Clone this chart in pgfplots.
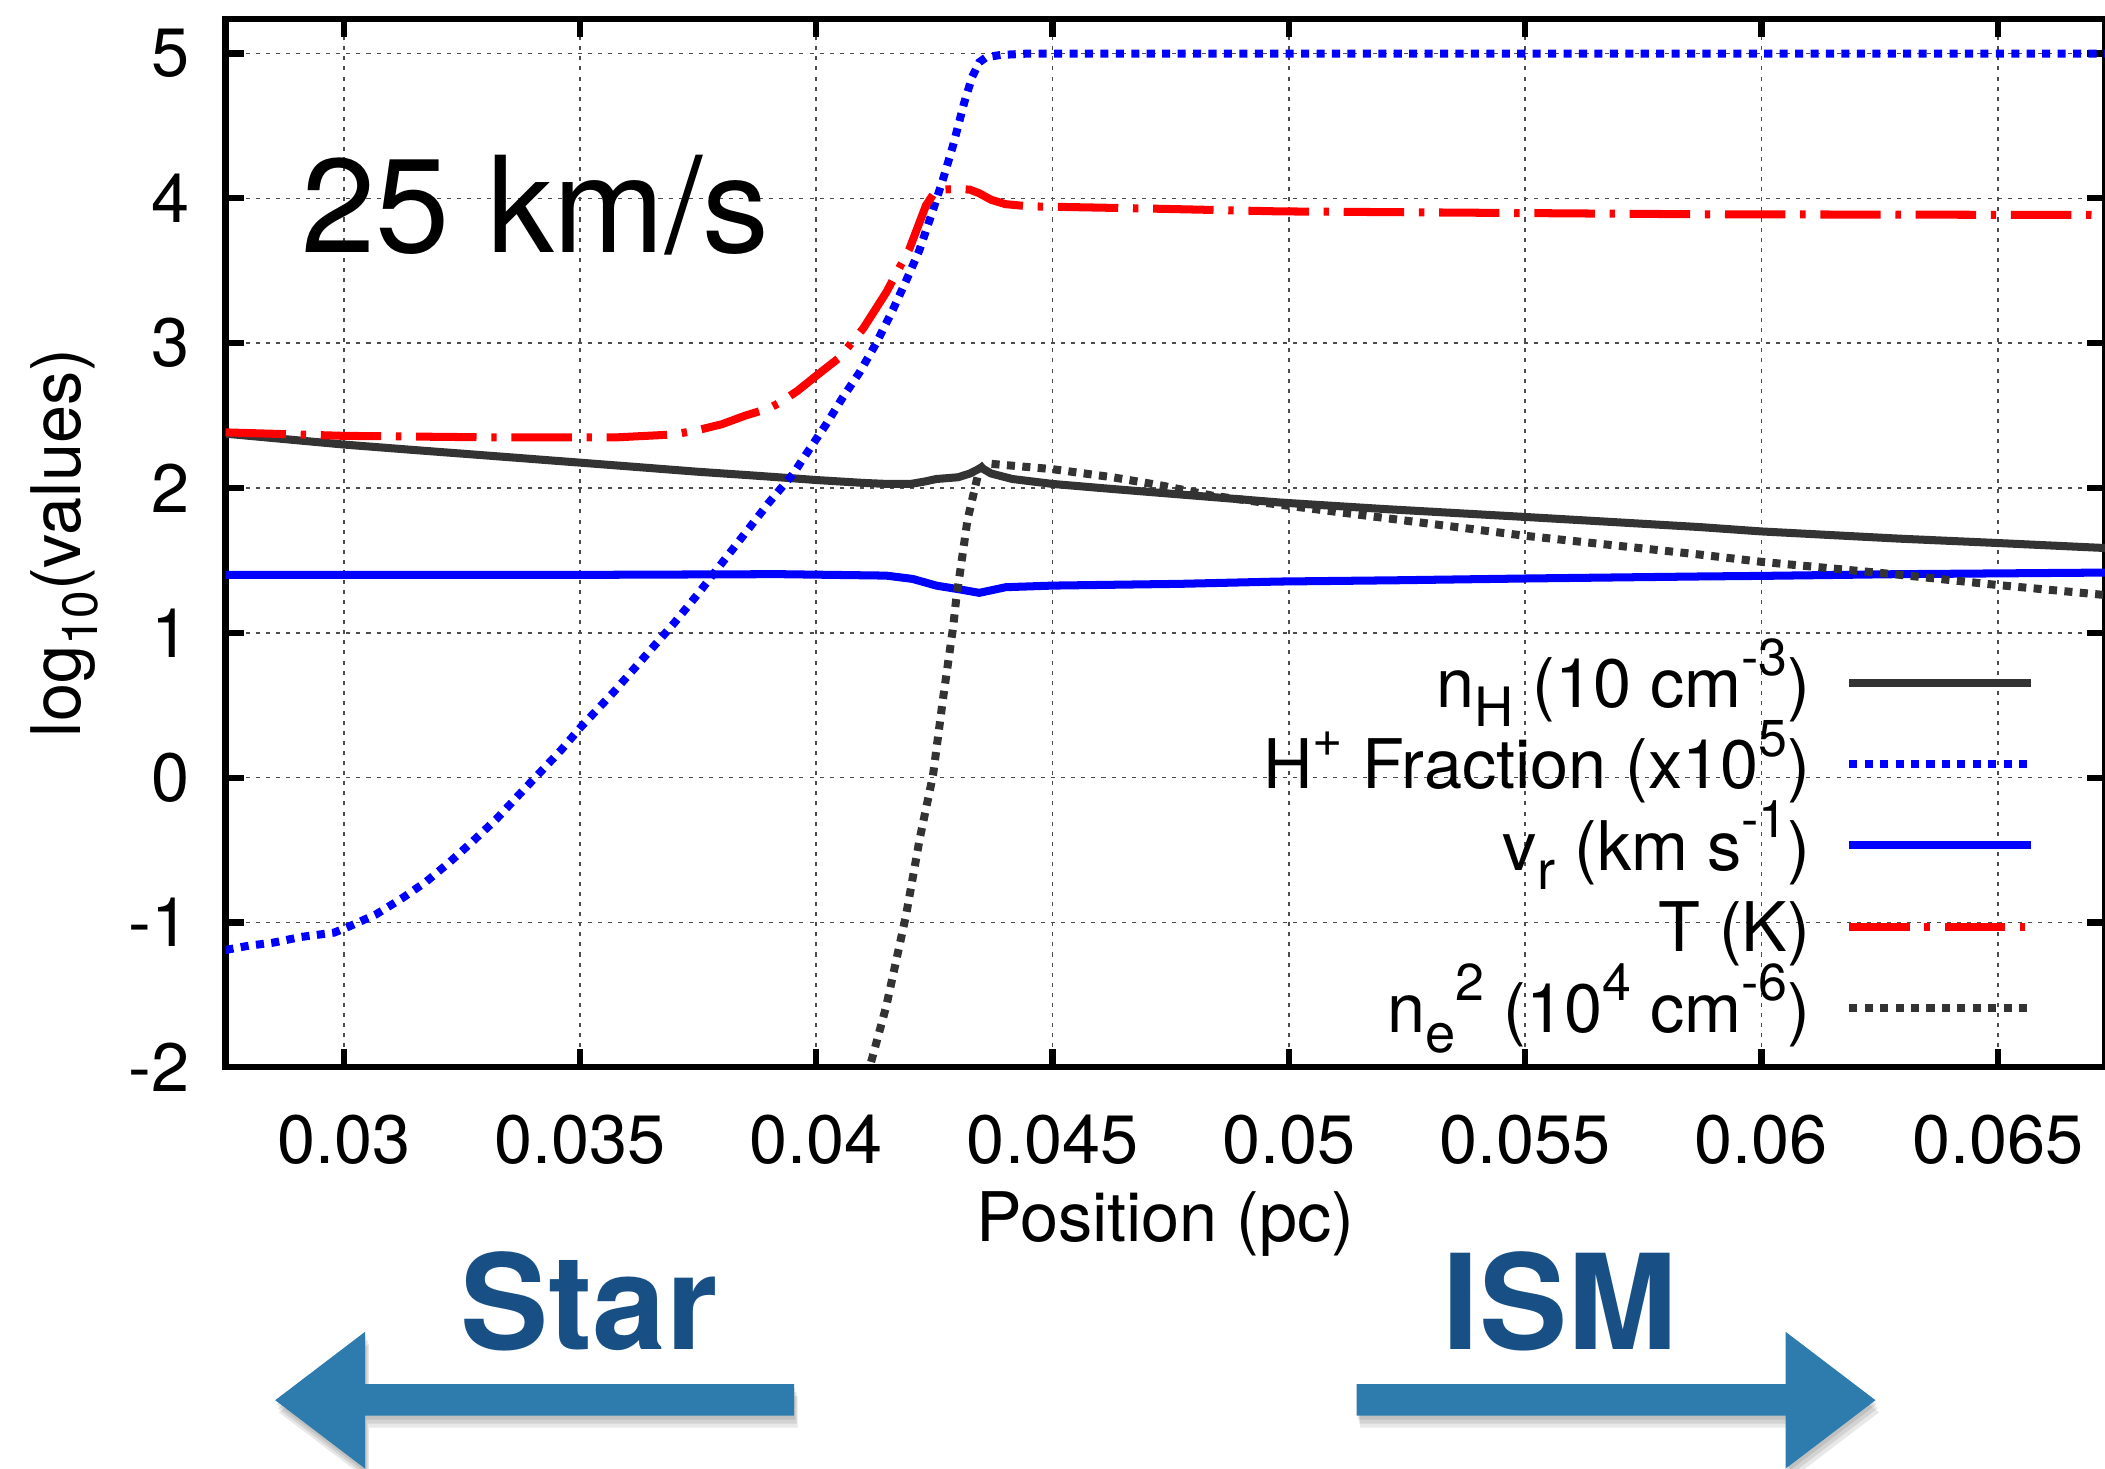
\documentclass[border=0pt]{standalone}
\usepackage{fontspec}
\setmainfont{TeX Gyre Heros}
\usepackage{pgfplots}
\pgfplotsset{compat=1.18}
\usepackage{pgfplotstable}

\definecolor{nhgray}{RGB}{51,51,51}
\definecolor{starblue}{RGB}{24,80,134}
\definecolor{arrowblue}{RGB}{46,124,174}

% raised / lowered indices in the text font
\newcommand\Sup[1]{\raisebox{2.4mm}{\fontsize{11}{12}\selectfont #1}}
\newcommand\Sub[1]{\raisebox{-1.45mm}{\fontsize{11.5}{12}\selectfont #1}}

% hydrogen density, log10(n_H / 10 cm^-3)
\pgfplotstableread{
x y
0.0275 2.375
0.0285 2.345
0.0300 2.300
0.0315 2.262
0.0330 2.225
0.0350 2.175
0.0360 2.150
0.0375 2.112
0.0385 2.090
0.0392 2.074
0.0400 2.055
0.0410 2.035
0.0415 2.028
0.0420 2.028
0.0423 2.045
0.04254 2.062
0.0430 2.074
0.04325 2.100
0.04349 2.140
0.0437 2.100
0.04415 2.062
0.0450 2.028
0.04627 1.993
0.0498 1.900
0.0520 1.855
0.0550 1.800
0.0587 1.730
0.0600 1.700
0.06293 1.650
0.0650 1.620
0.0673 1.585
}\nHtab

% ionised fraction, log10(x_H+ * 1e5)
\pgfplotstableread{
x y
0.0275 -1.19
0.0280 -1.16
0.0285 -1.14
0.0291 -1.10
0.0298 -1.07
0.0301 -1.03
0.03068 -0.945
0.03125 -0.83
0.03174 -0.72
0.03224 -0.584
0.03273 -0.44
0.03322 -0.29
0.03372 -0.115
0.03415 0.034
0.0346 0.19
0.03502 0.35
0.03548 0.51
0.03571 0.59
0.0370 1.07
0.0375 1.27
0.0380 1.48
0.0385 1.69
0.0390 1.90
0.0393 2.016
0.03951 2.097
0.03986 2.27
0.04021 2.44
0.04056 2.625
0.04092 2.80
0.04127 3.00
0.04162 3.23
0.0419 3.43
0.04218 3.64
0.04246 3.91
0.04268 4.13
0.04289 4.36
0.04313 4.66
0.0433 4.84
0.04345 4.94
0.0436 4.975
0.0439 4.99
0.0445 5.00
0.0550 5.00
0.0673 5.00
}\Hptab

% radial velocity, log10(v_r / km s^-1)
\pgfplotstableread{
x y
0.0275 1.400
0.0350 1.400
0.0392 1.405
0.04148 1.395
0.04204 1.372
0.04254 1.326
0.04303 1.300
0.04345 1.276
0.04401 1.315
0.0450 1.326
0.04768 1.338
0.04979 1.354
0.05234 1.363
0.0550 1.375
0.0587 1.389
0.0600 1.393
0.0629 1.405
0.0673 1.416
}\vrtab

% temperature, log10(T / K)
\pgfplotstableread{
x y
0.0275 2.384
0.0300 2.360
0.0330 2.350
0.0358 2.350
0.0370 2.370
0.0375 2.400
0.0380 2.440
0.0385 2.500
0.0390 2.550
0.03923 2.590
0.0396 2.670
0.0400 2.775
0.04049 2.900
0.04099 3.100
0.04148 3.350
0.04197 3.650
0.04232 3.950
0.04248 4.030
0.0426 4.060
0.0430 4.065
0.04325 4.060
0.04345 4.035
0.0437 3.990
0.0440 3.960
0.0445 3.945
0.04697 3.930
0.04979 3.910
0.0587 3.890
0.0673 3.885
}\Ttab

% emission measure proxy, log10(n_e^2 / 1e4 cm^-6)
\pgfplotstableread{
x y
0.0404 -3.00
0.04113 -2.00
0.04148 -1.58
0.0419 -0.95
0.04219 -0.42
0.04247 0.016
0.04268 0.54
0.0429 1.05
0.04296 1.23
0.0432 1.78
0.04345 2.13
0.0436 2.17
0.04373 2.166
0.04415 2.154
0.0450 2.130
0.04627 2.074
0.04732 2.016
0.04838 1.947
0.04944 1.900
0.05234 1.780
0.0550 1.670
0.0587 1.540
0.0600 1.490
0.06279 1.405
0.0650 1.330
0.0673 1.260
}\netab

\begin{document}
\begin{tikzpicture}
\begin{axis}[
  scale only axis,
  width=140mm, height=78.1mm,
  xmin=0.0275, xmax=0.06727,
  ymin=-2, ymax=5.24,
  scaled x ticks=false, scaled y ticks=false,
  xtick={0.03,0.035,0.04,0.045,0.05,0.055,0.06,0.065},
  xticklabels={0.03,0.035,0.04,0.045,0.05,0.055,0.06,0.065},
  ytick={-2,-1,0,1,2,3,4,5},
  yticklabels={-2,-1,0,1,2,3,4,5},
  tick align=inside,
  major tick length=1.35mm,
  major tick style={black, line width=1.3pt},
  axis line style={black, line width=1.3pt},
  grid=major,
  major grid style={black!70, line width=0.35pt, dash pattern=on 0.3mm off 0.45mm},
  xticklabel style={font=\fontsize{14.5}{16}\selectfont, inner sep=0pt, anchor=north, yshift=-3.5mm},
  yticklabel style={font=\fontsize{14.5}{16}\selectfont, inner sep=0pt, anchor=east, xshift=-2.6mm},
  xlabel={Position (pc)},
  ylabel={log\raisebox{-1.2mm}{\fontsize{10.5}{11}\selectfont 10}(values)},
  every axis x label/.style={at={(axis description cs:0.5,0)}, anchor=center, yshift=-11.65mm,
    font=\fontsize{14.5}{16}\selectfont},
  every axis y label/.style={at={(axis description cs:0,0.5)}, xshift=-12.0mm, anchor=center, rotate=90,
    font=\fontsize{14.5}{16}\selectfont},
  legend cell align=right,
  legend plot pos=right,
  legend image code/.code={\draw[#1] (0mm,0mm) -- (13.5mm,0mm);},
  legend style={draw=none, fill=none, inner sep=0pt, outer sep=0pt,
    at={(0.9625,0.4056)}, anchor=north east,
    font=\fontsize{14.5}{16}\selectfont,
    nodes={inner sep=0pt, text height=4.865mm, text depth=1.195mm},
    row sep=0pt, column sep=2.6mm},
]
\addplot[nhgray, line width=1.7pt] table {\nHtab};
\addlegendentry{n\Sub{H} (10 cm\Sup{-3})}
\addplot[blue, line width=1.7pt, dash pattern=on 0.6mm off 0.55mm] table {\Hptab};
\addlegendentry{H\Sup{+} Fraction (x10\Sup{5})}
\addplot[blue, line width=1.7pt] table {\vrtab};
\addlegendentry{v\Sub{r} (km s\Sup{-1})}
\addplot[red, line width=1.7pt, dash pattern=on 4.5mm off 1.1mm on 0.4mm off 1.1mm] table {\Ttab};
\addlegendentry{T (K)}
\addplot[nhgray, line width=1.7pt, dash pattern=on 0.6mm off 0.55mm] table {\netab};
\addlegendentry{n\Sub{e}\Sup{2} (10\Sup{4} cm\Sup{-6})}

\node[anchor=base west, inner sep=0pt, font=\fontsize{28.3}{30}\selectfont]
  at (axis cs:0.02909,3.627) {25 km/s};
\end{axis}

% direction arrows below the axis
\def\leftarrowpath{(3.7mm,-24.8mm) -- (10.4mm,-19.7mm) -- (10.4mm,-23.6mm) -- (42.35mm,-23.6mm)
  -- (42.35mm,-25.95mm) -- (10.4mm,-25.95mm) -- (10.4mm,-29.9mm) -- cycle}
\def\rightarrowpath{(122.9mm,-24.8mm) -- (116.2mm,-19.7mm) -- (116.2mm,-23.6mm) -- (84.25mm,-23.6mm)
  -- (84.25mm,-25.95mm) -- (116.2mm,-25.95mm) -- (116.2mm,-29.9mm) -- cycle}
\foreach \s in {0.3,0.6,0.9}{
  \fill[black, opacity=0.09, shift={(0.3*\s mm,-\s mm)}] \leftarrowpath;
  \fill[black, opacity=0.09, shift={(0.3*\s mm,-\s mm)}] \rightarrowpath;
}
\fill[arrowblue] \leftarrowpath;
\fill[arrowblue] \rightarrowpath;

\node[anchor=base west, inner sep=0pt, text=starblue, font=\bfseries\fontsize{28}{30}\selectfont]
  at (17.4mm,-21.0mm) {Star};
\node[anchor=base west, inner sep=0pt, text=starblue, font=\bfseries\fontsize{28}{30}\selectfont]
  at (90.6mm,-21.0mm) {ISM};

\pgfresetboundingbox
\path[use as bounding box] (-16.8mm,-29.9mm) rectangle (140mm,79.5mm);
\end{tikzpicture}
\end{document}
